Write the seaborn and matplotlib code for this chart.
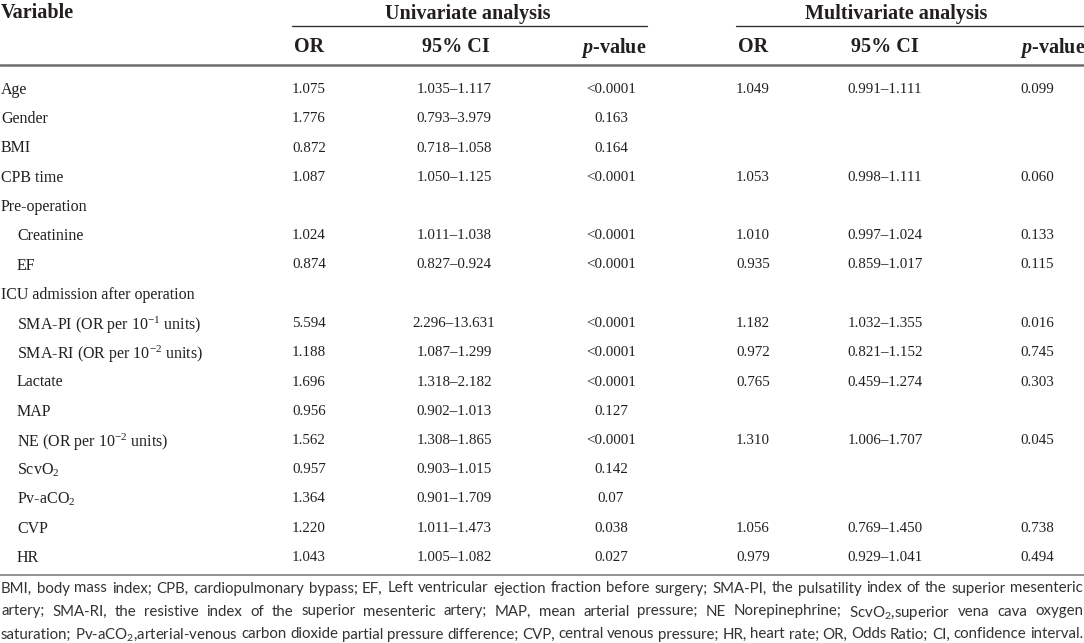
import matplotlib
matplotlib.use("Agg")
import matplotlib.pyplot as plt
import seaborn as sns
import pandas as pd

# table contents
variables = ["Age", "Gender", "BMI", "CPB time", "Pre-operation", "Creatinine", "EF",
             "ICU admission after operation",
             "SMA-PI (OR per 10$^{-1}$ units)", "SMA-RI (OR per 10$^{-2}$ units)",
             "Lactate", "MAP", "NE (OR per 10$^{-2}$ units)", "ScvO$_2$", "Pv-aCO$_2$",
             "CVP", "HR"]
indent = [0, 0, 0, 0, 0, 1, 1, 0, 1, 1, 1, 1, 1, 1, 1, 1, 1]
uni_or = ["1.075", "1.776", "0.872", "1.087", "", "1.024", "0.874", "", "5.594", "1.188",
          "1.696", "0.956", "1.562", "0.957", "1.364", "1.220", "1.043"]
uni_ci = ["1.035–1.117", "0.793–3.979", "0.718–1.058", "1.050–1.125", "", "1.011–1.038",
          "0.827–0.924", "", "2.296–13.631", "1.087–1.299", "1.318–2.182", "0.902–1.013",
          "1.308–1.865", "0.903–1.015", "0.901–1.709", "1.011–1.473", "1.005–1.082"]
uni_p = ["<0.0001", "0.163", "0.164", "<0.0001", "", "<0.0001", "<0.0001", "", "<0.0001",
         "<0.0001", "<0.0001", "0.127", "<0.0001", "0.142", "0.07", "0.038", "0.027"]
mul_or = ["1.049", "", "", "1.053", "", "1.010", "0.935", "", "1.182", "0.972", "0.765", "",
          "1.310", "", "", "1.056", "0.979"]
mul_ci = ["0.991–1.111", "", "", "0.998–1.111", "", "0.997–1.024", "0.859–1.017", "",
          "1.032–1.355", "0.821–1.152", "0.459–1.274", "", "1.006–1.707", "", "",
          "0.769–1.450", "0.929–1.041"]
mul_p = ["0.099", "", "", "0.060", "", "0.133", "0.115", "", "0.016", "0.745", "0.303", "",
         "0.045", "", "", "0.738", "0.494"]

sub_headers = ["OR", "95% CI", "$\\mathbfit{p}$-value"]
footnote = [
    "BMI, body mass index; CPB, cardiopulmonary bypass; EF, Left ventricular ejection fraction before surgery; SMA-PI, the pulsatility index of the superior mesenteric",
    "artery; SMA-RI, the resistive index of the superior mesenteric artery; MAP, mean arterial pressure; NE Norepinephrine; ScvO$_\\mathsf{2}$,superior vena cava oxygen",
    "saturation; Pv-aCO$_\\mathsf{2}$,arterial-venous carbon dioxide partial pressure difference; CVP, central venous pressure; HR, heart rate; OR, Odds Ratio; CI, confidence interval.",
]

df = pd.DataFrame({"Variable": variables, "indent": indent,
                   "uni_or": uni_or, "uni_ci": uni_ci, "uni_p": uni_p,
                   "mul_or": mul_or, "mul_ci": mul_ci, "mul_p": mul_p})

sns.set_theme(style="white")
serif = "Liberation Serif"
note_font = "Lato"
plt.rcParams["font.family"] = [serif, "DejaVu Serif"]
plt.rcParams["mathtext.fontset"] = "custom"
plt.rcParams["mathtext.rm"] = serif
plt.rcParams["mathtext.it"] = serif + ":italic"
plt.rcParams["mathtext.bf"] = serif + ":bold"
plt.rcParams["mathtext.bfit"] = serif + ":bold:italic"
plt.rcParams["mathtext.sf"] = note_font

W, H = 1084, 643
fig = plt.figure(figsize=(W / 100, H / 100), dpi=100)
ax = fig.add_axes([0, 0, 1, 1])
ax.set_xlim(0, W)
ax.set_ylim(H, 0)
ax.axis("off")

ink = "#231f20"
label_kw = dict(fontsize=11.5, color=ink, va="center_baseline", family=[serif])
num_kw = dict(fontsize=10.8, color=ink, va="center_baseline", family=[serif])
head = dict(fontsize=14.5, color=ink, fontweight="bold", va="center_baseline",
            family=[serif])

# column centres
cols = {"uni_or": 309, "uni_ci": 454, "uni_p": 611,
        "mul_or": 753, "mul_ci": 885, "mul_p": 1037}

# headers
ax.text(1, 11, "Variable", ha="left", **head)
ax.text(468, 11, "Univariate analysis", ha="center", **head)
ax.text(896, 11, "Multivariate analysis", ha="center", **head)
ax.plot([292, 647], [26, 26], color="#333333", lw=1.0)
ax.plot([736, W], [26, 26], color="#333333", lw=1.0)
ax.text(cols["uni_or"], 45, sub_headers[0], ha="center", **head)
ax.text(cols["uni_ci"] + 2, 45, sub_headers[1], ha="center", **head)
ax.text(646, 45, sub_headers[2], ha="right", **head)
ax.text(cols["mul_or"], 45, sub_headers[0], ha="center", **head)
ax.text(cols["mul_ci"], 45, sub_headers[1], ha="center", **head)
ax.text(W + 1, 45, sub_headers[2], ha="right", **head)
ax.plot([0, W], [65, 65], color="#6d6d6d", lw=1.8)

# body rows
y0, dy = 88, 29.25
for i, row in df.iterrows():
    y = y0 + i * dy
    ax.text(1 + 16 * row["indent"], y, row["Variable"], ha="left", **label_kw)
    for key, xc in cols.items():
        if row[key]:
            ax.text(xc, y, row[key], ha="center", **num_kw)
ax.plot([0, W], [575, 575], color="#8a8a8a", lw=1.3)

# justified footnote, size fitted so the tightest line just fills the width
renderer = fig.canvas.get_renderer()
note = dict(color="#333333", va="center_baseline", family=[note_font, "DejaVu Sans"])
probe = ax.text(0, 0, footnote[2], fontsize=10, **note)
natural = probe.get_window_extent(renderer).width
probe.remove()
note_size = 10 * (W - 4) / natural

for k, line in enumerate(footnote):
    y = 587 + k * 23
    words = line.split(" ")
    arts = [ax.text(0, y, w, ha="left", fontsize=note_size, **note) for w in words]
    widths = [a.get_window_extent(renderer).width for a in arts]
    gap = (W - 2 - sum(widths)) / (len(words) - 1)
    x = 1
    for a, w in zip(arts, widths):
        a.set_x(x)
        x += w + gap

fig.savefig("out.png", dpi=100)
